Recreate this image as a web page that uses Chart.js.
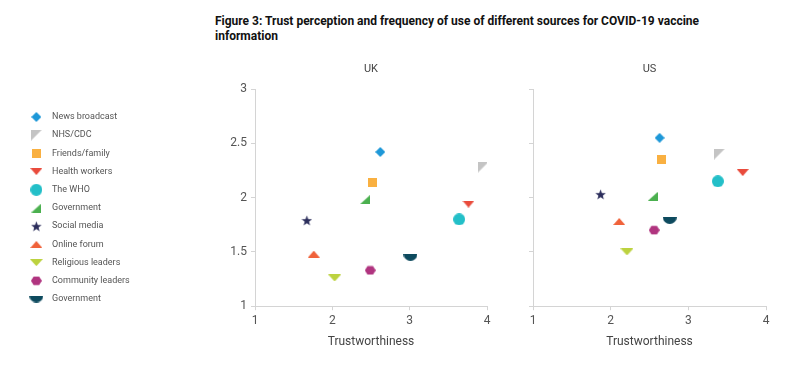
<!DOCTYPE html>
<html>
<head>
<meta charset="utf-8">
<script src="https://cdn.jsdelivr.net/npm/chart.js@4.4.1/dist/chart.umd.min.js"></script>
<style>
  body { margin: 0; background: #fff; width: 800px; height: 385px; position: relative; overflow: hidden; font-family: Roboto, sans-serif; }
  #title { position: absolute; left: 215px; top: 14px; font-weight: bold; font-size: 12px; line-height: 15px; color: #111; }
  #uk { position: absolute; left: 0; top: 50px; width: 500px; height: 335px; }
  #us { position: absolute; left: 500px; top: 50px; width: 300px; height: 335px; }
</style>
</head>
<body>
<div id="title">Figure 3: Trust perception and frequency of use of different sources for COVID-19 vaccine<br>information</div>
<div id="uk"><canvas id="ukChart"></canvas></div>
<div id="us"><canvas id="usChart"></canvas></div>
<script>
var sources = ['News broadcast', 'NHS/CDC', 'Friends/family', 'Health workers', 'The WHO', 'Government', 'Social media', 'Online forum', 'Religious leaders', 'Community leaders', 'Government'];
var colors = ['#1E98D8', '#C4C4C4', '#F9B041', '#E94B3C', '#23BFC8', '#4BB04F', '#2B2D5B', '#F0623A', '#BCD23F', '#B0347F', '#0D4A5E'];

// x = trustworthiness, y = frequency of use
var ukTrust = [2.62, 3.95, 2.52, 3.76, 3.64, 2.42, 1.67, 1.76, 2.03, 2.49, 3.01];
var ukFreq  = [2.42, 2.28, 2.14, 1.94, 1.80, 1.98, 1.79, 1.48, 1.26, 1.33, 1.45];
var usTrust = [2.63, 3.40, 2.65, 3.70, 3.38, 2.54, 1.87, 2.11, 2.21, 2.56, 2.76];
var usFreq  = [2.55, 2.40, 2.35, 2.23, 2.15, 2.01, 2.03, 1.78, 1.50, 1.70, 1.79];

var xTicks = [1, 2, 3, 4];
var yTicks = [1, 1.5, 2, 2.5, 3];

function marker(w, h, col, draw) {
    var c = document.createElement('canvas');
    c.width = w; c.height = h;
    var g = c.getContext('2d');
    g.fillStyle = col;
    g.beginPath();
    draw(g, w, h);
    g.fill();
    return c;
}
function poly(g, pts) {
    g.moveTo(pts[0][0], pts[0][1]);
    for (var i = 1; i < pts.length; i++) g.lineTo(pts[i][0], pts[i][1]);
    g.closePath();
}

var shapes = [
    marker(10, 10, colors[0], function(g){ poly(g, [[5,0],[10,5],[5,10],[0,5]]); }),
    marker(11, 11, colors[1], function(g){ poly(g, [[0,0],[11,0],[0,11]]); }),
    marker(9, 9, colors[2], function(g){ g.rect(0, 0, 9, 9); }),
    marker(12, 7, colors[3], function(g){ poly(g, [[0,0],[12,0],[6,7]]); }),
    marker(12, 12, colors[4], function(g){ g.arc(6, 6, 6, 0, Math.PI * 2); }),
    marker(10, 9, colors[5], function(g){ poly(g, [[0,9],[10,9],[10,0]]); }),
    marker(11, 11, colors[6], function(g){
        var pts = [];
        for (var i = 0; i < 10; i++) {
            var r = i % 2 ? 2.3 : 5.5, a = -Math.PI / 2 + i * Math.PI / 5;
            pts.push([5.5 + r * Math.cos(a), 6 + r * Math.sin(a)]);
        }
        poly(g, pts);
    }),
    marker(12, 7, colors[7], function(g){ poly(g, [[0,7],[12,7],[6,0]]); }),
    marker(13, 7, colors[8], function(g){ poly(g, [[0,0],[13,0],[6.5,7]]); }),
    marker(11, 10, colors[9], function(g){
        var pts = [];
        for (var i = 0; i < 6; i++) {
            var a = i * Math.PI / 3;
            pts.push([5.5 + 5.5 * Math.cos(a), 5 + 5 * Math.sin(a)]);
        }
        poly(g, pts);
    }),
    marker(14, 7, colors[10], function(g){ g.arc(7, 0, 7, 0, Math.PI); g.closePath(); })
];

function makeDatasets(xs, ys) {
    return sources.map(function(s, i) {
        return {
            label: s,
            data: [{ x: xs[i], y: ys[i] }],
            pointStyle: shapes[i],
            backgroundColor: colors[i],
            borderColor: colors[i],
            pointRadius: 6
        };
    });
}

var axisGrey = '#d4d4d4';
var tickGrey = '#555';

function scaleOpts(showY) {
    return {
        x: {
            type: 'linear', min: 1, max: 4,
            afterBuildTicks: function(a){ a.ticks = xTicks.map(function(v){ return { value: v }; }); },
            ticks: { color: tickGrey, font: { family: 'Roboto', size: 12 }, padding: 4, callback: function(v){ return String(v); } },
            grid: { drawOnChartArea: false, tickLength: 4, color: axisGrey },
            border: { color: axisGrey },
            title: { display: true, text: 'Trustworthiness', color: '#444', font: { family: 'Roboto', size: 12 }, padding: { top: 2, bottom: 17 } }
        },
        y: {
            type: 'linear', min: 1, max: 3,
            afterBuildTicks: function(a){ a.ticks = yTicks.map(function(v){ return { value: v }; }); },
            ticks: { display: showY, color: tickGrey, font: { family: 'Roboto', size: 12 }, padding: 4, callback: function(v){ return String(v); } },
            grid: { drawOnChartArea: false, tickLength: 4, color: axisGrey },
            border: { color: axisGrey },
            afterFit: function(a) {
                if (showY) {
                    var lw = a.chart.legend ? a.chart.legend.width : 0;
                    a.width = 255 - 16 - lw;
                } else {
                    a.width = 33;
                }
            }
        }
    };
}

new Chart(document.getElementById('ukChart'), {
    type: 'scatter',
    data: { datasets: makeDatasets(ukTrust, ukFreq) },
    options: {
        animation: false,
        responsive: true,
        maintainAspectRatio: false,
        layout: { padding: { left: 16, right: 13, top: 0, bottom: 19 } },
        plugins: {
            tooltip: { enabled: false },
            title: { display: true, text: 'UK', fullSize: false, color: '#444', font: { family: 'Roboto', size: 11, weight: 'normal' }, padding: { top: 13, bottom: 12.8 } },
            legend: {
                position: 'left',
                labels: { usePointStyle: true, pointStyleWidth: 22.3, padding: 9.2, color: '#555', font: { family: 'Roboto', size: 9 } }
            }
        },
        scales: scaleOpts(true)
    }
});

new Chart(document.getElementById('usChart'), {
    type: 'scatter',
    data: { datasets: makeDatasets(usTrust, usFreq) },
    options: {
        animation: false,
        responsive: true,
        maintainAspectRatio: false,
        layout: { padding: { left: 0, right: 34, top: 0, bottom: 19 } },
        plugins: {
            tooltip: { enabled: false },
            title: { display: true, text: 'US', fullSize: false, color: '#444', font: { family: 'Roboto', size: 11, weight: 'normal' }, padding: { top: 13, bottom: 12.8 } },
            legend: { display: false }
        },
        scales: scaleOpts(false)
    }
});
</script>
</body>
</html>
